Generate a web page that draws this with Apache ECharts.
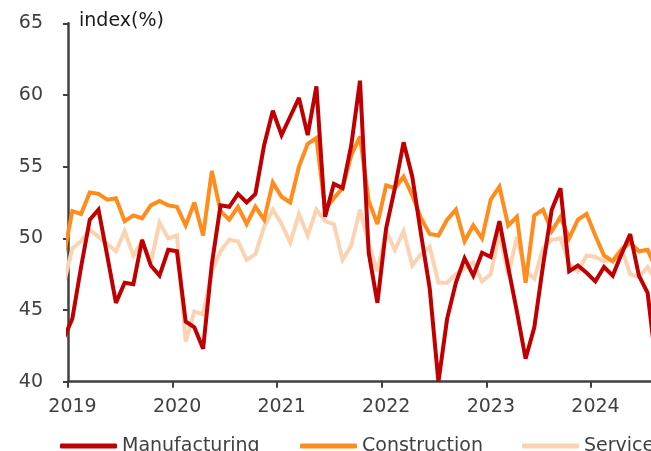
<!DOCTYPE html>
<html>
<head>
<meta charset="utf-8">
<script src="https://cdn.jsdelivr.net/npm/echarts@6/dist/echarts.min.js"></script>
<style>
  html, body { margin: 0; padding: 0; background: #ffffff; }
  #chart { width: 651px; height: 451px; }
</style>
</head>
<body>
<div id="chart"></div>
<script>
// Monthly PMI readings, first value is December 2018, one value per month
const firstYear = 2018;
const firstMonth = 12;

const yearTicks = [2019, 2020, 2021, 2022, 2023, 2024];

const seriesNames = ['Manufacturing', 'Construction', 'Service'];

const manufacturing = [
  43.0,
  44.4, 48.0, 51.3, 52.0, 48.8, 45.5, 46.9, 46.8, 49.9, 48.1, 47.4, 49.2,
  49.1, 44.2, 43.8, 42.3, 48.2, 52.3, 52.2, 53.1, 52.5, 53.1, 56.5, 58.9,
  57.2, 58.5, 59.8, 57.2, 60.6, 51.5, 53.8, 53.5, 56.5, 61.0, 49.0, 45.5,
  50.7, 53.5, 56.7, 54.3, 50.3, 46.5, 40.0, 44.4, 46.9, 48.6, 47.4, 49.0,
  48.7, 51.2, 48.0, 44.9, 41.6, 43.8, 48.1, 52.0, 53.5, 47.7, 48.1, 47.6,
  47.0, 48.0, 47.4, 48.9, 50.3, 47.4, 46.2, 41.0
];

const construction = [
  48.8,
  51.9, 51.7, 53.2, 53.1, 52.7, 52.8, 51.2, 51.6, 51.4, 52.3, 52.6, 52.3,
  52.2, 50.9, 52.5, 50.2, 54.7, 51.9, 51.3, 52.2, 51.0, 52.2, 51.3, 53.9,
  52.9, 52.5, 55.0, 56.6, 57.0, 52.0, 52.8, 53.5, 55.8, 57.1, 52.6, 51.0,
  53.7, 53.5, 54.3, 53.0, 51.4, 50.3, 50.2, 51.3, 52.0, 49.8, 50.9, 50.0,
  52.7, 53.6, 50.9, 51.5, 46.9, 51.6, 52.0, 50.5, 51.5, 50.0, 51.3, 51.7,
  50.2, 48.8, 48.4, 49.2, 49.7, 49.1, 49.2, 47.8
];

const service = [
  46.8,
  49.3, 49.8, 50.6, 50.1, 49.6, 49.1, 50.5, 48.8, 49.8, 48.3, 51.1, 50.0,
  50.2, 42.8, 44.9, 44.7, 47.7, 49.1, 49.9, 49.8, 48.5, 48.9, 50.8, 52.0,
  51.0, 49.7, 51.7, 50.2, 52.0, 51.2, 51.0, 48.5, 49.5, 52.0, 49.6, 47.7,
  50.5, 49.2, 50.5, 48.1, 48.9, 49.4, 46.9, 46.9, 47.5, 47.9, 48.3, 47.0,
  47.5, 50.4, 47.4, 50.1, 47.7, 47.2, 49.3, 49.9, 50.0, 48.2, 47.7, 48.8,
  48.7, 48.4, 48.5, 49.3, 47.5, 47.3, 48.0, 47.0
];

// each month sits in the middle of its slot on a continuous year axis
function toPoints(values) {
  return values.map(function (v, i) {
    const m = firstMonth - 1 + i;
    const x = firstYear + Math.floor(m / 12) + ((m % 12) + 0.5) / 12;
    return [x, v];
  });
}

const FONT = 'DejaVu Sans';
const AXIS_COLOR = '#404040';
const COLORS = ['#C00000', '#FF8C1C', '#FBD3B2'];

const chart = echarts.init(document.getElementById('chart'), null, { renderer: 'canvas' });

function lineSeries(name, values, color) {
  return {
    name: name,
    type: 'line',
    data: toPoints(values),
    showSymbol: false,
    symbol: 'none',
    clip: true,
    lineStyle: { color: color, width: 4, join: 'miter', miterLimit: 3 },
    itemStyle: { color: color },
    emphasis: { disabled: true }
  };
}

// one legend block per series so the row can run to the canvas edge
const legendLefts = [55, 295, 517];
const legends = seriesNames.map(function (name, i) {
  return {
    data: [name],
    left: legendLefts[i],
    top: 431,
    itemWidth: 57,
    itemHeight: 5,
    icon: 'roundRect',
    selectedMode: false,
    textStyle: { color: AXIS_COLOR, fontFamily: FONT, fontSize: 19, lineHeight: 20 }
  };
});

chart.setOption({
  animation: false,
  backgroundColor: '#ffffff',
  grid: { left: 68, right: 0, top: 23.3, bottom: 69.3, containLabel: false },
  xAxis: {
    type: 'value',
    min: 2019,
    max: 2024.574,
    interval: 1,
    axisLine: { show: true, lineStyle: { color: AXIS_COLOR, width: 2.5 } },
    axisTick: { show: true, length: 6, inside: false, customValues: yearTicks,
      lineStyle: { color: AXIS_COLOR, width: 2 } },
    axisLabel: {
      customValues: yearTicks,
      margin: 16,
      padding: [0, 0, 0, 9],
      color: AXIS_COLOR,
      fontFamily: FONT,
      fontSize: 19,
      formatter: function (v) { return String(Math.round(v)); }
    },
    splitLine: { show: false }
  },
  yAxis: {
    type: 'value',
    min: 40,
    max: 65,
    interval: 5,
    axisLine: { show: true, lineStyle: { color: AXIS_COLOR, width: 2.5 } },
    axisTick: { show: true, length: 5, inside: false,
      lineStyle: { color: AXIS_COLOR, width: 2 } },
    axisLabel: { margin: 25, color: AXIS_COLOR, fontFamily: FONT, fontSize: 19 },
    splitLine: { show: false }
  },
  legend: legends,
  graphic: [{
    type: 'text',
    left: 79,
    top: 12,
    style: { text: 'index(%)', fill: '#1a1a1a', font: '19px "DejaVu Sans"' }
  }],
  series: [
    lineSeries(seriesNames[2], service, COLORS[2]),
    lineSeries(seriesNames[1], construction, COLORS[1]),
    lineSeries(seriesNames[0], manufacturing, COLORS[0])
  ]
});
</script>
</body>
</html>
